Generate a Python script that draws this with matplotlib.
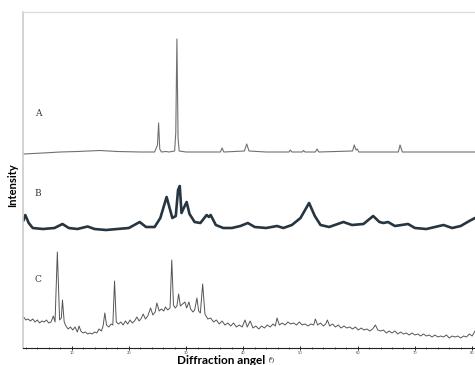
import matplotlib
matplotlib.use("Agg")
import matplotlib.pyplot as plt
from matplotlib.ticker import MultipleLocator

# ---------------- data ----------------
a_angle = [1.6, 5.0, 8.0, 11.0, 14.9, 18.0, 22.0, 24.5, 25.0, 25.2, 25.4, 25.7, 26.5, 27.0,
           28.0, 28.2, 28.4, 28.6, 28.8, 30.0, 33.0, 36.0, 36.3, 36.6, 40.2, 40.6, 41.0,
           44.0, 48.0, 48.2, 48.5, 50.3, 50.5, 50.8, 52.6, 52.9, 53.2, 59.1, 59.4, 59.7,
           59.9, 60.2, 67.1, 67.4, 67.8, 72.0, 80.5]
a_int = [-1, 0, 1, 1.5, 2.5, 1.5, 1, 1, 8, 30, 4, 1, 1.5, 1,
         2, 20, 114, 15, 2, 1, 1, 1, 5, 1, 2, 9, 2,
         1, 1, 3, 1, 1, 2.5, 1, 1, 4, 1, 2, 8, 3,
         4, 1, 1, 8, 1, 1, 1]

b_angle = [1.6, 1.9, 2.5, 3.2, 5.0, 7.0, 8.4, 9.5, 11.0, 12.8, 14.0, 16.0, 18.0, 20.0,
           21.9, 23.0, 24.5, 25.5, 26.6, 27.6, 28.2, 28.6, 28.9, 29.2, 29.6, 30.1, 30.6,
           31.5, 32.5, 33.6, 34.0, 34.3, 35.2, 36.5, 38.0, 39.5, 40.8, 42.0, 44.0, 45.9,
           47.0, 48.5, 50.0, 51.5, 52.5, 53.5, 55.0, 57.5, 59.0, 61.0, 62.7, 63.8, 64.5,
           65.3, 66.5, 68.8, 70.0, 72.0, 75.0, 76.5, 78.0, 79.5, 80.5]
b_int = [8, 13, 5, 0, -1, 0, 4, 0, -1, 1.5, -1, -2, -1, 0,
         6, 1, 1, 10, 31, 10, 12, 38, 42, 15, 20, 26, 14,
         6, 5, 13, 11, 13, 3, 0, 0, 2, 5, 1, 0, 2,
         0, 3, 10, 25, 12, 3, 1, 6, 3, 4, 12, 6, 5,
         6, 2, 4, 0, -1, 3, 0, 2, 7, 10]

c_angle = [1.6, 2.0, 2.4, 2.8, 3.2, 3.6, 4.0, 4.4, 4.8, 5.2, 5.6, 6.0, 6.4, 6.8, 7.1, 7.5,
           7.9, 8.2, 8.4, 8.7, 9.0, 9.4, 9.8, 10.2, 10.6, 11.0, 11.3, 11.6, 12.0, 12.4,
           12.8, 13.2, 13.6, 14.0, 14.4, 14.8, 15.2, 15.5, 15.8, 16.1, 16.5, 16.9, 17.2,
           17.5, 17.8, 18.2, 18.6, 19.0, 19.4, 19.8, 20.2, 20.6, 21.0, 21.4, 21.8, 22.2,
           22.5, 22.9, 23.3, 23.8, 24.2, 24.6, 24.9, 25.3, 25.7, 26.1, 26.4, 26.8, 27.2,
           27.5, 27.8, 28.1, 28.4, 28.7, 29.0, 29.4, 29.8, 30.1, 30.5, 30.8, 31.2, 31.5,
           31.9, 32.2, 32.5, 32.9, 33.3, 33.8, 34.3, 34.8, 35.3, 35.8, 36.3, 36.8, 37.3,
           37.8, 38.3, 38.8, 39.3, 39.8, 40.3, 40.7, 41.2, 41.7, 42.2, 42.7, 43.2, 43.7,
           44.2, 44.7, 45.2, 45.6, 45.9, 46.3, 46.8, 47.3, 47.8, 48.3, 48.8, 49.3, 49.8,
           50.3, 50.8, 51.3, 51.8, 52.3, 52.6, 53.0, 53.5, 54.0, 54.4, 54.7, 55.1, 55.6,
           56.1, 56.6, 57.1, 57.6, 58.1, 58.6, 59.1, 59.6, 60.1, 60.6, 61.1, 61.6, 62.1,
           62.6, 63.1, 63.5, 64.0, 64.5, 65.0, 65.5, 66.0, 66.5, 67.0, 67.5, 68.0, 68.5,
           69.0, 69.5, 70.0, 70.5, 71.0, 71.5, 72.0, 72.5, 73.0, 73.5, 74.0, 74.5, 75.0,
           75.5, 76.0, 76.5, 77.0, 77.5, 78.0, 78.5, 79.0, 79.5, 80.0, 80.5]
c_int = [31, 28, 29, 27, 29, 26, 28, 25, 27, 26, 28, 25, 26, 32, 26, 96,
         28, 30, 48, 26, 22, 19, 21, 18, 21, 16, 22, 17, 15, 16,
         14, 15, 14, 16, 15, 19, 17, 22, 35, 23, 21, 24, 23,
         67, 26, 24, 26, 23, 27, 24, 28, 25, 27, 31, 27, 30,
         34, 29, 32, 40, 33, 36, 45, 37, 39, 37, 41, 38, 40,
         88, 43, 40, 42, 54, 42, 44, 46, 40, 46, 39, 36, 38,
         50, 37, 35, 64, 34, 29, 30, 26, 28, 24, 27, 23, 25,
         22, 25, 21, 23, 21, 28, 21, 27, 20, 22, 19, 22, 20,
         23, 21, 24, 22, 30, 23, 25, 23, 26, 24, 25, 23, 26,
         23, 24, 22, 24, 23, 29, 23, 25, 22, 24, 28, 22, 24,
         21, 23, 20, 22, 20, 21, 19, 21, 18, 20, 18, 19, 17,
         19, 23, 18, 17, 18, 15, 17, 15, 17, 14, 16, 14, 15,
         13, 15, 13, 14, 12, 14, 12, 13, 11, 13, 11, 12, 11,
         13, 10, 12, 11, 12, 10, 12, 11, 14, 12, 17]

x_ticks = [10, 20, 30, 40, 50, 60, 70, 80]
x_tick_labels = ["10", "20", "30", "40", "50", "60", "70", "80"]
curve_labels = ["A", "B", "C"]

# offsets of each pattern in the stacked plot (pixel-like units)
off_a, off_b, off_c = 195, 120, 0

# ---------------- figure ----------------
W, H = 475, 365
fig = plt.figure(figsize=(W / 100, H / 100), dpi=100)
ax = fig.add_axes([23 / W, 1 - 348 / H, 452 / W, 336 / H])
ax.set_xlim(1.5, 80.5)
ax.set_ylim(0, 336)

ax.plot(a_angle, [v + off_a for v in a_int], color="#707070", lw=0.8)
ax.plot(b_angle, [v + off_b for v in b_int], color="#26353f", lw=1.9,
        solid_joinstyle="round")
ax.plot(c_angle, [v + off_c for v in c_int], color="#555555", lw=0.7)

for lab, (x, y) in zip(curve_labels, [(4.1, 234), (4.1, 154), (4.1, 68)]):
    ax.text(x, y, lab, fontsize=6.5, family="DejaVu Serif", color="#333333",
            va="center", ha="center")

ax.spines["right"].set_visible(False)
ax.spines["top"].set_color("#dddddd")
ax.spines["top"].set_linewidth(1.0)
ax.spines["left"].set_color("#cccccc")
ax.spines["left"].set_linewidth(1.2)
ax.spines["bottom"].set_color("#222222")
ax.spines["bottom"].set_linewidth(0.8)

ax.set_yticks([])
ax.set_xticks(x_ticks)
ax.set_xticklabels(x_tick_labels, fontsize=2.6, color="#444444")
ax.xaxis.set_minor_locator(MultipleLocator(2))
ax.tick_params(axis="x", which="major", direction="inout", length=3, width=0.6, pad=0.8)
ax.tick_params(axis="x", which="minor", direction="inout", length=2, width=0.4)

fig.text(13 / W, 1 - 185 / H, "Intensity", rotation=90, fontsize=8, fontweight="bold",
         family="Lato", ha="center", va="center")
fig.text(221 / W, 1 - 360 / H, "Diffraction angel", fontsize=8.5, fontweight="bold",
         family="Lato", ha="center", va="center")
fig.text(269 / W, 1 - 360 / H, "(°)", fontsize=4.5, family="Lato",
         ha="left", va="center")

fig.savefig("out.png", dpi=100, facecolor="white")
